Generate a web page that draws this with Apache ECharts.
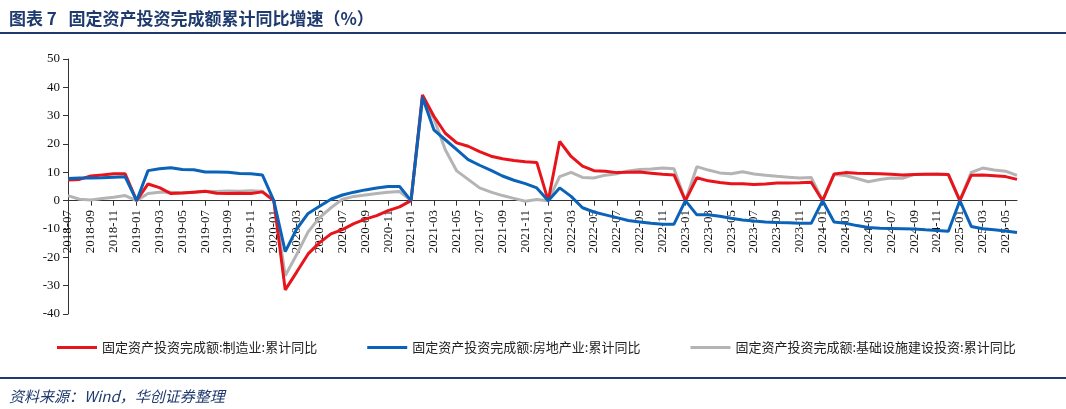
<!DOCTYPE html>
<html>
<head>
<meta charset="utf-8">
<script src="https://cdn.jsdelivr.net/npm/echarts@6/dist/echarts.min.js"></script>
<style>
  body { margin: 0; background: #fff; }
  #chart { width: 1066px; height: 409px; }
</style>
</head>
<body>
<div id="chart"></div>
<script>
// 月份 2018-07 ~ 2025-06
const months = [];
for (let y = 2018; y <= 2025; y++) {
  for (let m = 1; m <= 12; m++) {
    if ((y === 2018 && m < 7) || (y === 2025 && m > 6)) continue;
    months.push(y + '-' + (m < 10 ? '0' + m : m));
  }
}

// 制造业
const manufacturing = [
  7.3, 7.5, 8.7, 9.1, 9.5, 9.5,
  0, 5.9, 4.6, 2.5, 2.7, 3.0, 3.3, 2.6, 2.5, 2.6, 2.5, 3.1,
  0, -31.5, -25.2, -18.8, -14.8, -11.7, -10.2, -8.1, -6.5, -5.3, -3.5, -2.2,
  0, 37.3, 29.8, 23.8, 20.4, 19.2, 17.3, 15.7, 14.8, 14.2, 13.7, 13.5,
  0, 20.9, 15.6, 12.2, 10.6, 10.4, 9.9, 10.0, 10.1, 9.7, 9.3, 9.1,
  0, 8.1, 7.0, 6.4, 6.0, 6.0, 5.7, 5.9, 6.2, 6.2, 6.3, 6.5,
  0, 9.4, 9.9, 9.7, 9.6, 9.5, 9.3, 9.1, 9.2, 9.3, 9.3, 9.2,
  0, 9.0, 9.1, 8.8, 8.5, 7.5
];
// 房地产业
const realEstate = [
  7.8, 8.0, 8.0, 8.1, 8.3, 8.4,
  0, 10.6, 11.3, 11.6, 11.0, 10.9, 10.1, 10.1, 10.0, 9.6, 9.5, 9.1,
  0, -18.0, -10.0, -4.5, -2.0, 0.5, 2.0, 3.0, 3.8, 4.5, 5.0, 5.0,
  0, 36.5, 25.0, 21.5, 18.0, 14.5, 12.5, 10.7, 8.7, 7.2, 6.0, 4.5,
  0, 4.5, 1.5, -2.5, -4.0, -5.0, -6.0, -7.0, -7.5, -8.0, -8.3, -8.3,
  0, -5.0, -5.0, -5.5, -6.2, -6.8, -7.2, -7.5, -7.7, -7.8, -8.0, -8.0,
  0, -7.5, -8.0, -8.8, -9.5, -9.7, -9.8, -9.9, -10.0, -10.3, -10.5, -10.8,
  0, -9.1, -9.9, -10.3, -10.7, -11.2
];
// 基础设施建设投资
const infrastructure = [
  1.8, 0.5, 0.2, 0.8, 1.2, 1.8,
  0, 2.5, 3.0, 3.0, 2.8, 3.0, 3.2, 3.2, 3.4, 3.3, 3.5, 3.3,
  0, -26.5, -19.0, -11.0, -6.0, -2.5, 0.5, 1.5, 2.0, 2.5, 3.0, 3.2,
  0, 35.5, 29.0, 18.0, 10.5, 7.5, 4.5, 3.0, 1.8, 0.8, -0.2, 0.4,
  0, 8.5, 10.0, 8.2, 8.0, 9.0, 9.5, 10.5, 11.0, 11.2, 11.5, 11.3,
  0, 12.0, 10.8, 9.8, 9.5, 10.2, 9.4, 9.0, 8.6, 8.3, 8.0, 8.2,
  0, 9.2, 8.9, 7.8, 6.7, 7.5, 8.0, 7.9, 9.2, 9.3, 9.4, 9.2,
  0, 10.0, 11.5, 10.8, 10.4, 8.9
];

const seriesNames = [
  '固定资产投资完成额:制造业:累计同比',
  '固定资产投资完成额:房地产业:累计同比',
  '固定资产投资完成额:基础设施建设投资:累计同比'
];
const colors = ['#e8141c', '#0a63b8', '#b4b4b4'];

const chart = echarts.init(document.getElementById('chart'));
const mkLine = (name, data, color, z) => ({
  name, type: 'line', data, showSymbol: false, z,
  lineStyle: { width: 3, color }, itemStyle: { color }
});
chart.setOption({
  animation: false,
  title: [
    {
      text: '图表 7   固定资产投资完成额累计同比增速（%）',
      left: 4, top: 5,
      textStyle: { fontSize: 17, fontWeight: 'bold', color: '#1f3a6e', fontFamily: 'Noto Sans CJK SC' }
    },
    {
      text: '资料来源：Wind，华创证券整理',
      left: 4, top: 384,
      textStyle: { fontSize: 15, fontWeight: 'normal', fontStyle: 'italic', color: '#1f3a6e', fontFamily: 'Noto Sans CJK SC' }
    }
  ],
  graphic: [
    { type: 'line', shape: { x1: 0, y1: 33, x2: 1066, y2: 33 }, style: { stroke: '#1f3a6e', lineWidth: 2 } },
    { type: 'line', shape: { x1: 0, y1: 378, x2: 1066, y2: 378 }, style: { stroke: '#1f3a6e', lineWidth: 2 } }
  ],
  legend: {
    top: 336, left: 52, itemGap: 50, itemWidth: 40, itemHeight: 3,
    icon: 'rect',
    textStyle: { fontSize: 13, color: '#222', fontFamily: 'Noto Sans CJK SC' },
    data: seriesNames
  },
  grid: { left: 68, right: 49, top: 59, bottom: 95 },
  xAxis: {
    type: 'category', data: months, boundaryGap: false,
    axisLine: { onZero: true, lineStyle: { color: '#333' } },
    axisTick: { interval: 1, lineStyle: { color: '#333' } },
    axisLabel: {
      interval: 1, rotate: 90, fontSize: 13, color: '#111',
      fontFamily: 'Liberation Serif', margin: -104
    }
  },
  yAxis: {
    type: 'value', min: -40, max: 50, interval: 10,
    axisLine: { show: true, lineStyle: { color: '#333' } },
    axisTick: { show: true, lineStyle: { color: '#333' } },
    splitLine: { show: false },
    axisLabel: { fontSize: 13, color: '#111', fontFamily: 'Liberation Serif' }
  },
  series: [
    mkLine(seriesNames[0], manufacturing, colors[0], 3),
    mkLine(seriesNames[1], realEstate, colors[1], 4),
    mkLine(seriesNames[2], infrastructure, colors[2], 2)
  ]
});
</script>
</body>
</html>
